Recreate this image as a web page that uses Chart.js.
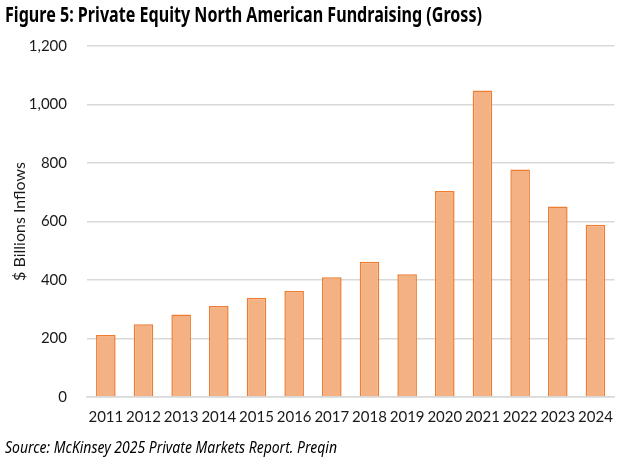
<!DOCTYPE html>
<html>
<head>
<meta charset="utf-8">
<script src="https://cdn.jsdelivr.net/npm/chart.js@4.4.1/dist/chart.umd.min.js"></script>
<style>
  html, body { margin: 0; padding: 0; background: #fff; }
  #wrap { position: relative; width: 624px; height: 464px; overflow: hidden; }
  #title { position: absolute; left: 5px; top: 0px; font-family: "Noto Sans", sans-serif; font-weight: 700; font-size: 21px; line-height: 28px; color: #000; white-space: nowrap; transform-origin: 0 0; }
  #source { position: absolute; left: 5px; top: 436px; font-family: "Noto Sans", sans-serif; font-style: italic; font-size: 16px; line-height: 22px; color: #000; white-space: nowrap; transform-origin: 0 0; }
  #box { position: absolute; left: 0; top: 0; width: 624px; height: 464px; }
</style>
</head>
<body>
<div id="wrap">
  <div id="box"><canvas id="fundChart"></canvas></div>
  <div id="title">Figure 5: Private Equity North American Fundraising (Gross)</div>
  <div id="source">Source: McKinsey 2025 Private Markets Report. Preqin</div>
</div>
<script>
const years = ["2011", "2012", "2013", "2014", "2015", "2016", "2017", "2018", "2019", "2020", "2021", "2022", "2023", "2024"];
const inflows = [212, 249, 282, 311, 339, 362, 409, 462, 420, 704, 1048, 778, 651, 589];
const yTicks = [0, 200, 400, 600, 800, 1000, 1200];

// squeeze the html text to the width it takes in the picture
function fitWidth(id, target) {
  const el = document.getElementById(id);
  const w = el.getBoundingClientRect().width;
  el.style.transform = "scaleX(" + (target / w) + ")";
}
fitWidth("title", 477);
fitWidth("source", 332);

const ctx = document.getElementById("fundChart");
new Chart(ctx, {
  type: "bar",
  data: {
    labels: years,
    datasets: [
      {
        label: "$ Billions Inflows",
        data: inflows,
        backgroundColor: "#F4B183",
        borderColor: "#ED7D31",
        borderWidth: 1.5,
        categoryPercentage: 1,
        barPercentage: 0.52,
      },
    ],
  },
  options: {
    responsive: true,
    maintainAspectRatio: false,
    animation: false,
    layout: { padding: { top: 46, left: 10, right: 4, bottom: 27 } },
    plugins: { legend: { display: false }, tooltip: { enabled: false } },
    scales: {
      x: {
        grid: { display: false, drawTicks: false },
        border: { display: true, color: "#D9D9D9", width: 1.5 },
        ticks: { color: "#1a1a1a", padding: 11, maxRotation: 0, font: { family: "Lato", size: 15 } },
      },
      y: {
        min: 0,
        max: 1200,
        afterBuildTicks: (axis) => { axis.ticks = yTicks.map((v) => ({ value: v })); },
        afterFit: (axis) => { axis.width = 77; },
        grid: { color: "#D9D9D9", lineWidth: 1.5, drawTicks: false },
        border: { display: false },
        ticks: {
          color: "#1a1a1a",
          padding: 20,
          font: { family: "Lato", size: 15 },
          callback: (v) => v.toLocaleString("en-US"),
        },
        title: {
          display: true,
          text: "$ Billions Inflows",
          color: "#1a1a1a",
          padding: 0,
          font: { family: "Lato", size: 16 },
        },
      },
    },
  },
});
</script>
</body>
</html>
